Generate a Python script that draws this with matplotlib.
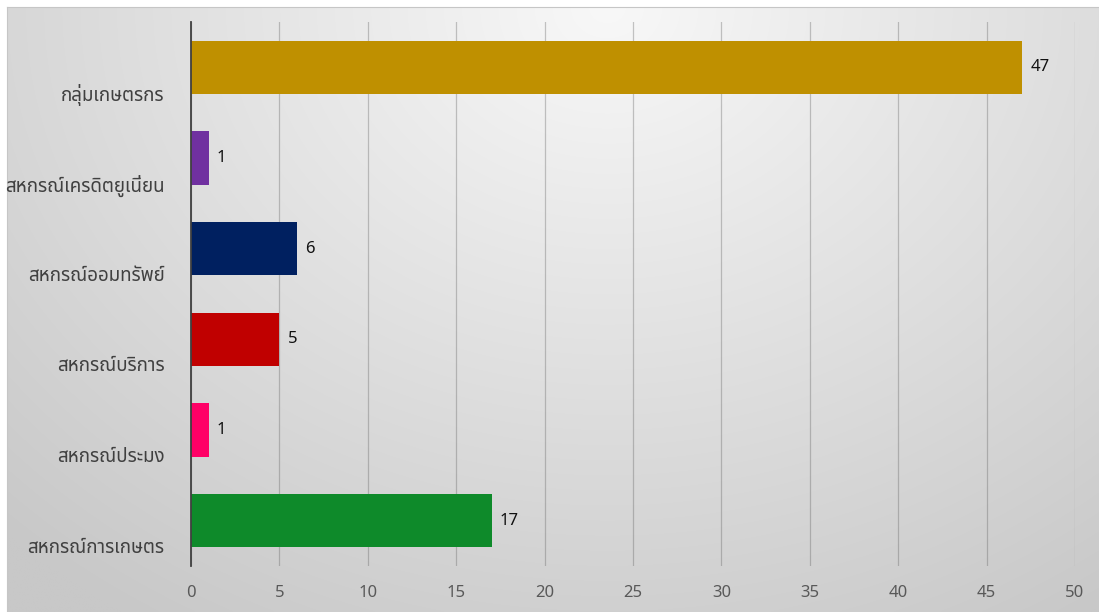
import numpy as np
import matplotlib
matplotlib.use("Agg")
import matplotlib.pyplot as plt
import matplotlib.transforms as mtransforms

plt.rcParams['font.family'] = ['Noto Sans Thai', 'Noto Sans Thai UI', 'DejaVu Sans']

# data (top to bottom)
categories = ["กลุ่มเกษตรกร", "สหกรณ์เครดิตยูเนี่ยน", "สหกรณ์ออมทรัพย์",
              "สหกรณ์บริการ", "สหกรณ์ประมง", "สหกรณ์การเกษตร"]
values = [47, 1, 6, 5, 1, 17]
colors = ["#BF9000", "#7030A0", "#002060", "#C00000", "#FF0066", "#0E8A2A"]
xticks = [0, 5, 10, 15, 20, 25, 30, 35, 40, 45, 50]

W, H = 1099, 612
fig = plt.figure(figsize=(W / 100, H / 100), dpi=100)
fig.patch.set_facecolor("white")

# gradient background panel
bg = fig.add_axes([7 / W, 0, 1 - 7 / W, 1 - 7 / H])
yy, xx = np.mgrid[0:1:300j, 0:1:600j]
d = np.sqrt(((xx - 0.55) / 0.8) ** 2 + ((yy - 0.0) / 1.2) ** 2)
g = 248 - 48 * np.clip(d, 0, 1)
img = np.dstack([g, g, g]) / 255.0
bg.imshow(img, aspect="auto", extent=[0, 1, 1, 0], interpolation="bilinear")
bg.set_xlim(0, 1)
bg.set_ylim(1, 0)
bg.set_xticks([])
bg.set_yticks([])
for s in ["right", "bottom"]:
    bg.spines[s].set_visible(False)
bg.spines["top"].set_color("#c6c6c6")
bg.spines["left"].set_color("#c6c6c6")

# main chart
ax = fig.add_axes([191 / W, 1 - 566 / H, (1075 - 191) / W, (566 - 22) / H])
ax.patch.set_alpha(0)
y = np.arange(len(categories))
ax.barh(y, values, height=0.59, color=colors, zorder=3)
ax.set_ylim(len(categories) - 0.5, -0.5)
ax.set_xlim(0, 50)
ax.set_xticks(xticks)
ax.set_yticks(y)
ax.set_yticklabels(categories)

ax.grid(axis="x", color="#606060", alpha=0.35, linewidth=0.9, zorder=0)
ax.grid(axis="y", visible=False)
for s in ["top", "right", "bottom"]:
    ax.spines[s].set_visible(False)
ax.spines["left"].set_color("#404040")
ax.spines["left"].set_linewidth(1.3)
ax.spines["left"].set_zorder(4)

ax.tick_params(axis="x", length=0, pad=14, labelsize=12, labelcolor="#595959")
ax.tick_params(axis="y", length=0, pad=19, labelsize=13.5, labelcolor="#404040")

# category labels sit lower than the bar centre in the original
offset = mtransforms.ScaledTranslation(0, -0.25, fig.dpi_scale_trans)
for lab in ax.get_yticklabels():
    lab.set_transform(lab.get_transform() + offset)

for yi, v in zip(y, values):
    ax.annotate(str(v), (v, yi), xytext=(6, 0), textcoords="offset points",
                va="center", ha="left", fontsize=12, color="#111111", zorder=5)

fig.savefig("out.png", dpi=100)
